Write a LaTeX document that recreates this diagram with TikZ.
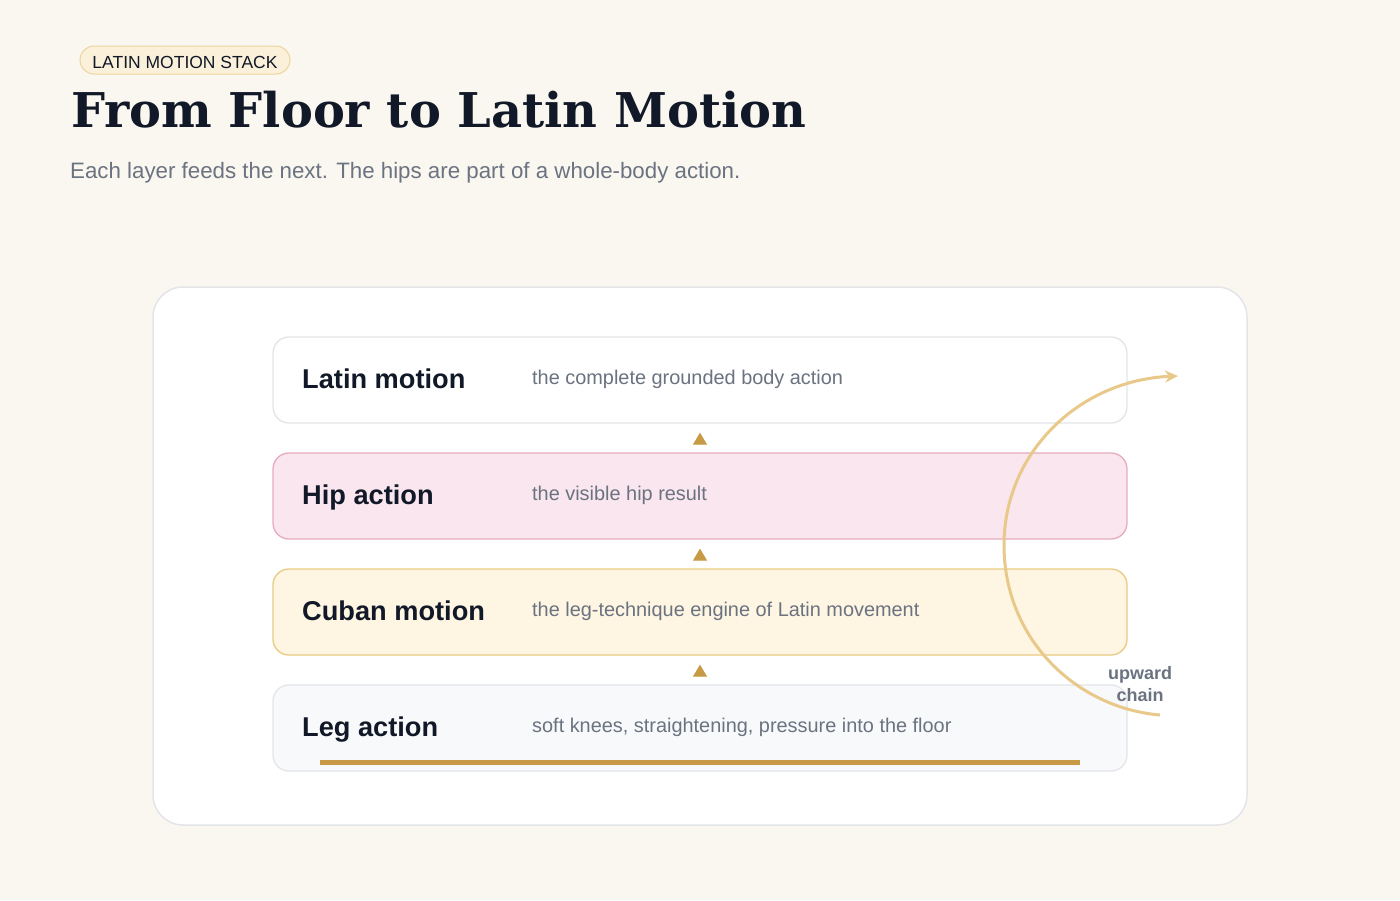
\documentclass[tikz,border=0pt]{standalone}
\usepackage{fontspec}
\setmainfont{Liberation Sans}
\newfontfamily\titlefont{DejaVu Serif}
\usetikzlibrary{arrows.meta,positioning}
\definecolor{paper}{HTML}{FAF7F0}
\definecolor{ink}{HTML}{111827}
\definecolor{slate}{HTML}{6B7280}
\definecolor{gold}{HTML}{C99A45}
\definecolor{sand}{HTML}{E8C98A}
\definecolor{edge}{HTML}{E3E5E8}
\definecolor{pinkfill}{HTML}{F9E6EE}
\definecolor{pinkedge}{HTML}{E7AAC0}
\definecolor{creamfill}{HTML}{FEF6E3}
\definecolor{creamedge}{HTML}{EACB82}
\definecolor{mistfill}{HTML}{F7F9FB}
\definecolor{badgefill}{HTML}{FBF0DA}
\definecolor{badgeedge}{HTML}{EDD49C}
\begin{document}
\begin{tikzpicture}[x=1pt, y=-1pt,
  layer/.style={draw, rectangle, rounded corners=16pt, minimum width=854pt, minimum height=86pt, line width=1.3pt},
  layername/.style={anchor=base west, inner sep=0pt, font=\fontsize{27.2}{32}\selectfont\bfseries, text=ink},
  layertext/.style={anchor=base west, inner sep=0pt, font=\fontsize{19.9}{24}\selectfont, text=slate},
  feed/.style={-{Triangle[length=12pt, width=14pt]}, draw=gold, line width=1pt, shorten >=9pt, shorten <=9pt}]
\fill[paper] (0,0) rectangle (1400,900);
\useasboundingbox (0,0) rectangle (1400,900);
% header
\node[draw=badgeedge, fill=badgefill, rounded corners=14pt, line width=1pt, minimum width=210pt, minimum height=28pt, inner sep=0pt] (badge) at (185,60) {};
\node[anchor=base, inner sep=0pt, font=\fontsize{17.5}{20}\selectfont, text=ink] (badgeText) at (185,68) {LATIN MOTION STACK};
\node[anchor=base west, inner sep=0pt, font=\titlefont\fontsize{47.9}{54}\selectfont\bfseries, text=ink] (title) at (71,127) {From Floor to Latin Motion};
\node[anchor=base west, inner sep=0pt, font=\fontsize{22.3}{26}\selectfont, text=slate] (subtitle) at (70,178) {Each layer feeds the next. The hips are part of a whole-body action.};
% card
\node[draw=edge, fill=white, rounded corners=30pt, line width=1.5pt, minimum width=1094pt, minimum height=538pt] (card) at (700,556) {};
% layers
\node[layer, draw=edge, fill=white] (latin) at (700,380) {};
\node[layer, draw=pinkedge, fill=pinkfill] (hip) at (700,496) {};
\node[layer, draw=creamedge, fill=creamfill] (cuban) at (700,612) {};
\node[layer, draw=edge, fill=mistfill] (leg) at (700,728) {};
\node[layername] (latinName) at (302,388) {Latin motion};
\node[layertext] (latinText) at (532,384) {the complete grounded body action};
\node[layername] (hipName) at (302,504) {Hip action};
\node[layertext] (hipText) at (532,500) {the visible hip result};
\node[layername] (cubanName) at (302,620) {Cuban motion};
\node[layertext] (cubanText) at (532,616) {the leg-technique engine of Latin movement};
\node[layername] (legName) at (302,736) {Leg action};
\node[layertext] (legText) at (532,732) {soft knees, straightening, pressure into the floor};
% floor line
\coordinate (floorL) at (320,762);
\coordinate (floorR) at (1080,762);
\draw[gold, line width=5pt] (floorL) -- (floorR);
% feeds
\draw[feed] (leg) -- (cuban);
\draw[feed] (cuban) -- (hip);
\draw[feed] (hip) -- (latin);
% upward chain
\coordinate (chainStart) at (1160,715);
\coordinate (chainMid) at (1004,545);
\coordinate (chainEnd) at (1178,376);
\draw[sand, line width=3pt, -{Stealth[length=13pt, width=12pt]}] (chainStart) .. controls (1077,708) and (1004,640) .. (chainMid) .. controls (1004,452) and (1080,380) .. (chainEnd);
\node[align=center, inner sep=0pt, font=\fontsize{18}{22}\selectfont\bfseries, text=slate] (chainLabel) at (1140,684) {upward\\chain};
\end{tikzpicture}
\end{document}
